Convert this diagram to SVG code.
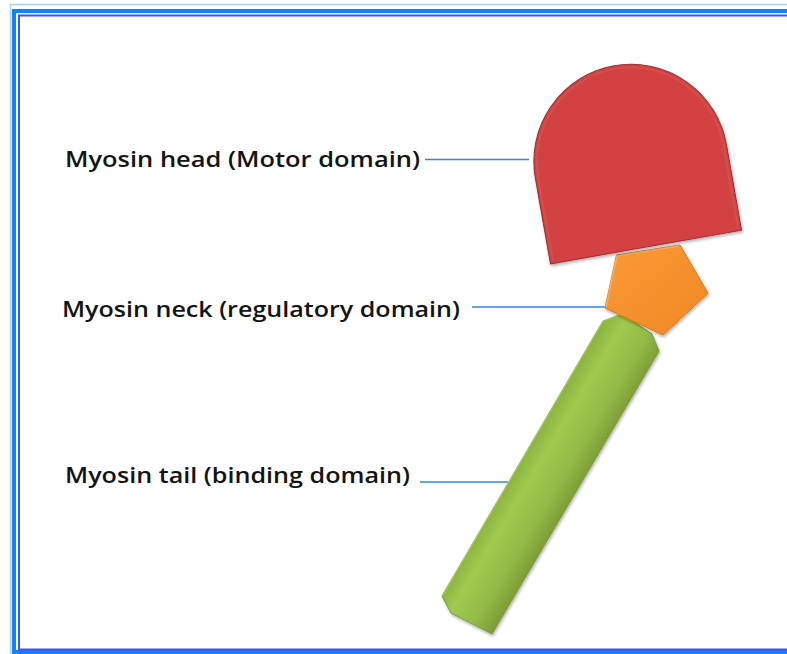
<svg xmlns="http://www.w3.org/2000/svg" width="787" height="654" viewBox="0 0 787 654">
  <style>
    .label { font-family: "Open Sans", "Liberation Sans", sans-serif; font-weight: 600; font-size: 21px; fill: #141414; }
    .leader { stroke: #2f86e8; stroke-width: 1.5; fill: none; }
  </style>
  <defs>
    <linearGradient id="headFill" gradientUnits="userSpaceOnUse" x1="530" y1="170" x2="740" y2="135">
      <stop offset="0" stop-color="#d24343"/>
      <stop offset="0.5" stop-color="#c23c3c"/>
      <stop offset="1" stop-color="#ac3333"/>
    </linearGradient>
    <linearGradient id="neckFill" x1="0" y1="0" x2="1" y2="1">
      <stop offset="0" stop-color="#f99a35"/>
      <stop offset="1" stop-color="#f08826"/>
    </linearGradient>
    <linearGradient id="tailFill" gradientUnits="userSpaceOnUse" x1="521" y1="457" x2="576" y2="490">
      <stop offset="0" stop-color="#8ab23f"/>
      <stop offset="0.3" stop-color="#a0c94f"/>
      <stop offset="0.7" stop-color="#94bb47"/>
      <stop offset="1" stop-color="#7f9f36"/>
    </linearGradient>
    <filter id="shadow" x="-20%" y="-20%" width="140%" height="140%">
      <feDropShadow dx="1" dy="2" stdDeviation="1.5" flood-color="#000" flood-opacity="0.3"/>
    </filter>
  </defs>

  <!-- page frame -->
  <g id="frame" fill="none">
    <rect x="10.5" y="4.5" width="800" height="660" stroke="#a8d0ff" stroke-width="1.5"/>
    <rect x="14" y="11" width="800" height="641" stroke="#0a84ff" stroke-width="4"/>
    <rect x="19" y="15.5" width="800" height="634" stroke="#4b4cf2" stroke-width="2"/>
  </g>

  <!-- leader lines -->
  <g id="connectors">
    <line class="leader" x1="425" y1="159.5" x2="529" y2="159.5"/>
    <line class="leader" x1="472" y1="307" x2="606" y2="307"/>
    <line class="leader" x1="420" y1="482" x2="508" y2="482"/>
  </g>

  <!-- tail (binding domain) -->
  <g id="tail" filter="url(#shadow)">
    <polygon points="603,321 622,314 652,334 659,351 492,634 451,613 442,596" fill="url(#tailFill)" stroke="#7a9a33" stroke-width="1"/>
    <polyline points="442,596 603,321 622,314" fill="none" stroke="#b9dc6a" stroke-width="1.5" opacity="0.6"/>
  </g>

  <!-- neck (regulatory domain) -->
  <g id="neck" filter="url(#shadow)">
    <polygon points="616.5,255 680,245 708,293 663,335 605,308" fill="url(#neckFill)" stroke="#d97818" stroke-width="1"/>
    <polyline points="606,307 617,256 679,246" fill="none" stroke="#fbb46a" stroke-width="1.5" opacity="0.8"/>
  </g>

  <!-- head (motor domain) -->
  <g id="head" filter="url(#shadow)">
    <path transform="translate(646,247) rotate(-10)" d="M -97,0 L -97,-87 A 97 97 0 0 1 97,-87 L 97,0 Z" fill="url(#headFill)" stroke="#9c2e2e" stroke-width="1"/>
    <path transform="translate(646,247) rotate(-10)" d="M -94,-2 L -94,-87 A 94 94 0 0 1 94,-87 L 94,-2" fill="none" stroke="#dc5858" stroke-width="2" opacity="0.5"/>
  </g>

  <!-- labels -->
  <g id="label-head">
    <text class="label" x="65" y="167" textLength="355" lengthAdjust="spacingAndGlyphs">Myosin head (Motor domain)</text>
  </g>
  <g id="label-neck">
    <text class="label" x="62" y="317" textLength="398" lengthAdjust="spacingAndGlyphs">Myosin neck (regulatory domain)</text>
  </g>
  <g id="label-tail">
    <text class="label" x="65" y="483" textLength="345" lengthAdjust="spacingAndGlyphs">Myosin tail (binding domain)</text>
  </g>
</svg>
